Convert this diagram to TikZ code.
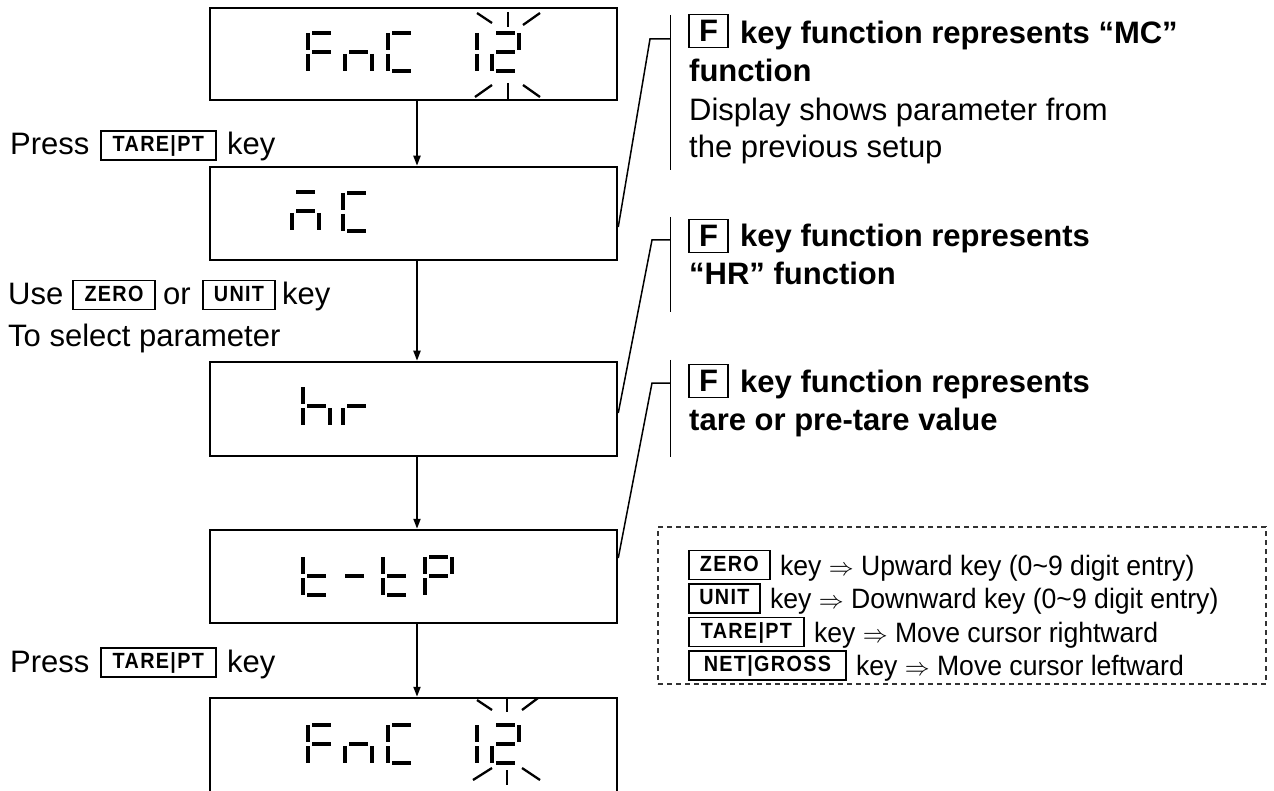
\documentclass[tikz,border=0pt]{standalone}
\usepackage{fontspec}
\setmainfont{Liberation Sans}
\newfontfamily\keyfont[FakeStretch=0.9,LetterSpace=6]{Liberation Sans}
\newfontfamily\narrowfont[FakeStretch=0.95]{Liberation Sans}
\usetikzlibrary{arrows.meta}
\expandafter\newcommand\csname seg@a\endcsname[2]{\draw[seg] (#1+4,#2) -- (#1+23,#2);}
\expandafter\newcommand\csname seg@b\endcsname[2]{\draw[seg] (#1+27,#2) -- (#1+27,#2+17);}
\expandafter\newcommand\csname seg@c\endcsname[2]{\draw[seg] (#1+27,#2+21) -- (#1+27,#2+38);}
\expandafter\newcommand\csname seg@d\endcsname[2]{\draw[seg] (#1+4,#2+38) -- (#1+23,#2+38);}
\expandafter\newcommand\csname seg@e\endcsname[2]{\draw[seg] (#1,#2+21) -- (#1,#2+38);}
\expandafter\newcommand\csname seg@f\endcsname[2]{\draw[seg] (#1,#2) -- (#1,#2+17);}
\expandafter\newcommand\csname seg@g\endcsname[2]{\draw[seg] (#1+4,#2+19) -- (#1+23,#2+19);}
\newcommand\sevdig[3]{\foreach \s in {#3}{\csname seg@\s\endcsname{#1}{#2}}}
\begin{document}
\begin{tikzpicture}[x=1pt,y=-1pt,
  disp/.style={draw,line width=2.5pt,minimum width=407pt,inner sep=0pt},
  seg/.style={line width=4pt},
  blink/.style={line width=2.3pt},
  arr/.style={line width=2pt,-{Triangle[length=10pt,width=7pt]}},
  callout/.style={line width=1.5pt},
  txt/.style={inner sep=0pt,anchor=base west,font=\fontsize{31}{36}\selectfont},
  btxt/.style={inner sep=0pt,anchor=base west,font=\fontsize{31}{36}\selectfont\bfseries},
  ltxt/.style={inner sep=0pt,anchor=base west,font=\narrowfont\fontsize{28}{32}\selectfont},
  fkey/.style={draw,line width=1.5pt,minimum width=39pt,minimum height=33pt,inner sep=0pt,font=\fontsize{31}{36}\selectfont\bfseries},
  kbox/.style={draw,line width=1.8pt,inner sep=0pt,minimum height=29pt,text height=15.5pt,text depth=3pt,font=\keyfont\fontsize{22}{24}\selectfont\bfseries},
]
\useasboundingbox (0,0) rectangle (1274,791);

% display boxes
\node[disp,minimum height=92pt] (d1) at (413.5,54) {};
\node[disp,minimum height=93pt] (d2) at (413.5,213.5) {};
\node[disp,minimum height=94pt] (d3) at (413.5,409) {};
\node[disp,minimum height=93pt] (d4) at (413.5,576.5) {};
\node[disp,minimum height=100pt] (d5) at (413.5,748) {};

% arrows
\draw[arr] ([xshift=3.5pt]d1.south) -- ([xshift=3.5pt]d2.north);
\draw[arr] ([xshift=3.5pt]d2.south) -- ([xshift=3.5pt]d3.north);
\draw[arr] ([xshift=3.5pt]d3.south) -- ([xshift=3.5pt]d4.north);
\draw[arr] ([xshift=3.5pt]d4.south) -- ([xshift=3.5pt]d5.north);

% digits
\sevdig{308}{33}{a,f,e,g}\sevdig{345}{33}{e,g,c}\sevdig{388}{33}{a,f,e,d}\sevdig{450}{33}{b,c}\sevdig{492}{33}{a,b,g,e,d}
\draw[blink] (477,13) -- (492,23); \draw[blink] (508,12) -- (508,27); \draw[blink] (523,25) -- (540,13);
\draw[blink] (475,97) -- (492,85); \draw[blink] (508,83) -- (508,100); \draw[blink] (523,85) -- (540,97);

\sevdig{292}{192}{a,g,e,c}\sevdig{343}{193}{a,f,e,d}
\sevdig{303}{387}{f,e,g,c}\sevdig{343}{387}{e,g}
\sevdig{303}{557}{f,e,g,d}\sevdig{341}{557}{g}\sevdig{383}{557}{f,e,g,d}\sevdig{425}{557}{a,b,f,e,g}

\sevdig{308}{725}{a,f,e,g}\sevdig{345}{725}{e,g,c}\sevdig{388}{725}{a,f,e,d}\sevdig{450}{725}{b,c}\sevdig{492}{725}{a,b,g,e,d}
\draw[blink] (477,700) -- (492,710); \draw[blink] (507,698) -- (507,712); \draw[blink] (522,710) -- (538,698);
\draw[blink] (473,780) -- (492,768); \draw[blink] (507,770) -- (507,785); \draw[blink] (522,768) -- (540,780);

% left texts
\node[txt] (p1) at (10,155) {Press};
\node[kbox,minimum width=115pt] (k1) at (158.3,145.5) {TARE|PT};
\node[txt] (p1k) at (227,155) {key};
\node[txt] (u1) at (8,305) {Use};
\node[kbox,minimum width=82pt] (k2) at (114,295) {ZERO};
\node[txt] (u2) at (163,305) {or};
\node[kbox,minimum width=72pt] (k3) at (239,295) {UNIT};
\node[txt] (u3) at (282,305) {key};
\node[txt] (u4) at (8,347) {To select parameter};
\node[txt] (p2) at (10,672) {Press};
\node[kbox,minimum width=115pt] (k4) at (158.3,662.5) {TARE|PT};
\node[txt] (p2k) at (227,672) {key};

% callouts
\node[fkey] (f1) at (708.5,31) {F};
\node[btxt] (c1a) at (740,44) {key function represents “MC”};
\node[btxt] (c1b) at (689,82) {function};
\node[txt] (c1c) at (689,121) {Display shows parameter from};
\node[txt] (c1d) at (689,158) {the previous setup};
\coordinate (b1t) at (670.7,15); \coordinate (b1b) at (670.7,170);
\coordinate (e1) at (650,39);
\draw[callout] (b1t) -- (b1b);
\draw[callout] ([yshift=-13.5pt]d2.east) -- (e1) -- (e1 -| b1t);

\node[fkey] (f2) at (708.5,236) {F};
\node[btxt] (c2a) at (740,247) {key function represents};
\node[btxt] (c2b) at (689,285) {“HR” function};
\coordinate (b2t) at (670.7,217); \coordinate (b2b) at (670.7,312);
\coordinate (e2) at (652,240);
\draw[callout] (b2t) -- (b2b);
\draw[callout] ([yshift=-4pt]d3.east) -- (e2) -- (e2 -| b2t);

\node[fkey] (f3) at (708.5,381) {F};
\node[btxt] (c3a) at (740,392) {key function represents};
\node[btxt] (c3b) at (689,430) {tare or pre-tare value};
\coordinate (b3t) at (670.7,360); \coordinate (b3b) at (670.7,457);
\coordinate (e3) at (652,383);
\draw[callout] (b3t) -- (b3b);
\draw[callout] ([yshift=18.5pt]d4.east) -- (e3) -- (e3 -| b3t);

% legend
\node[draw=black!80,dash pattern=on 5pt off 4pt,line width=1.3pt,minimum width=608pt,minimum height=157pt,inner sep=0pt] (leg) at (962,605.5) {};
\node[kbox,minimum width=81pt,anchor=west] (lk1) at (688,565) {ZERO};
\node[ltxt] (l1) at ([xshift=9pt,yshift=-10pt]lk1.east) {key $\Rightarrow$ Upward key (0\textasciitilde 9 digit entry)};
\node[kbox,minimum width=71pt,anchor=west] (lk2) at (688,598.5) {UNIT};
\node[ltxt] (l2) at ([xshift=9pt,yshift=-10pt]lk2.east) {key $\Rightarrow$ Downward key (0\textasciitilde 9 digit entry)};
\node[kbox,minimum width=115pt,anchor=west] (lk3) at (688,632) {TARE|PT};
\node[ltxt] (l3) at ([xshift=9pt,yshift=-10pt]lk3.east) {key $\Rightarrow$ Move cursor rightward};
\node[kbox,minimum width=157pt,anchor=west] (lk4) at (688,665.5) {NET|GROSS};
\node[ltxt] (l4) at ([xshift=9pt,yshift=-10pt]lk4.east) {key $\Rightarrow$ Move cursor leftward};
\end{tikzpicture}
\end{document}
